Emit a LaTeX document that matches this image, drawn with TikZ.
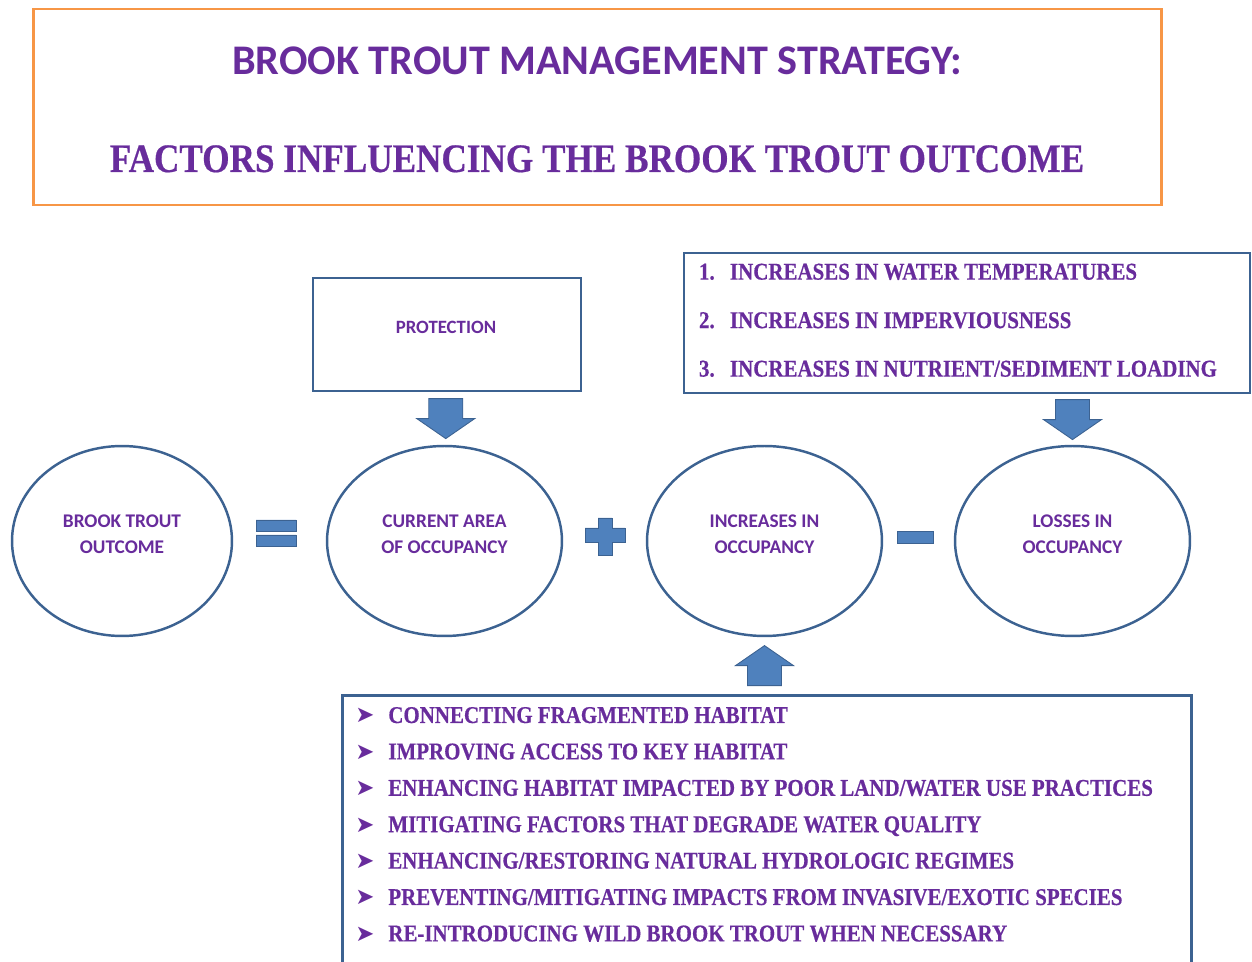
\documentclass[tikz,border=0pt]{standalone}
\usepackage{fontspec}
\setmainfont{Liberation Serif}
\newfontfamily\headsans{Carlito}
\newfontfamily\listserif[FakeStretch=0.87,FakeBold=0.5]{Liberation Serif}
\newfontfamily\symbfont{DejaVu Sans}
\usetikzlibrary{shapes.geometric,calc}

\definecolor{txtpurple}{RGB}{104,44,156}
\definecolor{edgeblue}{RGB}{60,98,145}
\definecolor{fillblue}{RGB}{79,129,189}
\definecolor{frameorange}{RGB}{247,150,70}

\tikzset{
  box/.style={draw=edgeblue, line width=1.6pt, inner sep=0pt},
  oval/.style={ellipse, draw=edgeblue, line width=1.4pt, minimum width=4.7cm, minimum height=3.8cm, inner sep=0pt},
  ovaltext/.style={font=\headsans\bfseries\fontsize{11}{14.7}\selectfont, text=txtpurple, align=center, yshift=0.14cm},
  item/.style={font=\listserif\bfseries\fontsize{13.7}{16}\selectfont, text=txtpurple, inner sep=0pt, anchor=base west},
  bullet/.style={item, font=\symbfont\fontsize{13}{15}\selectfont},
  op/.style={draw=edgeblue, fill=fillblue, line width=0.5pt},
  pics/blockarrow/.style={code={
    \draw[op] (-17,-20) -- (17,-20) -- (17,0) -- (29,0) -- (0,20) -- (-29,0) -- (-17,0) -- cycle;}}
}

\begin{document}
\begin{tikzpicture}[x=0.02cm,y=-0.02cm]
\useasboundingbox (0,0) rectangle (1252,962);

% title
\node[draw=frameorange, line width=1.6pt, minimum width=22.58cm, minimum height=3.92cm] (title) at (597.5,107) {};
\node[font=\headsans\bfseries\fontsize{24}{28}\selectfont, text=txtpurple, anchor=base] at (597,75) {BROOK TROUT MANAGEMENT STRATEGY:};
\node[font=\listserif\bfseries\fontsize{23}{27}\selectfont, text=txtpurple, anchor=base] at (597,172) {FACTORS INFLUENCING THE BROOK TROUT OUTCOME};

% the equation
\node[oval, minimum width=4.4cm, label={[ovaltext]center:BROOK TROUT\\OUTCOME}] (outcome) at (122,541) {};
\node[oval, label={[ovaltext]center:CURRENT AREA\\OF OCCUPANCY}] (current) at (444.5,541) {};
\node[oval, label={[ovaltext]center:INCREASES IN\\OCCUPANCY}] (gain) at (764.5,541) {};
\node[oval, label={[ovaltext]center:LOSSES IN\\OCCUPANCY}] (loss) at (1072.5,541) {};

\draw[op] (256,520) rectangle (296,531) (256,535) rectangle (296,546);
\draw[op] (598,518) -- (612,518) -- (612,528) -- (625,528) -- (625,542) -- (612,542) -- (612,555)
  -- (598,555) -- (598,542) -- (585,542) -- (585,528) -- (598,528) -- cycle;
\draw[op] (897,531) rectangle (933,543);

% protection
\node[box, minimum width=5.36cm, minimum height=2.26cm] (prot) at (447,334.5) {};
\node[font=\headsans\bfseries\fontsize{10.7}{13}\selectfont, text=txtpurple] at (446,327) {PROTECTION};
\pic at ($(prot.south)!0.5!(current.north)$) {blockarrow};

% threats
\node[box, minimum width=11.32cm, minimum height=2.8cm] (threat) at (967,323) {};
\foreach \t [count=\i from 0] in {INCREASES IN WATER TEMPERATURES, INCREASES IN IMPERVIOUSNESS,
    INCREASES IN NUTRIENT/SEDIMENT LOADING}{
  \pgfmathtruncatemacro\n{\i+1}
  \node[item] at ($(threat.north west)+(16,28+48.5*\i)$) {\n.};
  \node[item] at ($(threat.north west)+(47,28+48.5*\i)$) {\t};
}
\pic at ($(threat.south -| loss.north)!0.5!(loss.north)$) {blockarrow};

% actions
\node[box, anchor=north west, minimum width=16.98cm, minimum height=6cm] (actions) at (341,694) {};
\foreach \t [count=\i from 0] in {CONNECTING FRAGMENTED HABITAT, IMPROVING ACCESS TO KEY HABITAT,
    ENHANCING HABITAT IMPACTED BY POOR LAND/WATER USE PRACTICES, MITIGATING FACTORS THAT DEGRADE WATER QUALITY,
    ENHANCING/RESTORING NATURAL HYDROLOGIC REGIMES, PREVENTING/MITIGATING IMPACTS FROM INVASIVE/EXOTIC SPECIES,
    RE-INTRODUCING WILD BROOK TROUT WHEN NECESSARY}{
  \node[bullet, text=txtpurple] at ($(actions.north west)+(14,29+36.4*\i)$) {➤};
  \node[item] at ($(actions.north west)+(47,29+36.4*\i)$) {\t};
}
\pic[rotate=180] at ($(gain.south)!0.5!(gain.south |- actions.north)$) {blockarrow};
\end{tikzpicture}
\end{document}
